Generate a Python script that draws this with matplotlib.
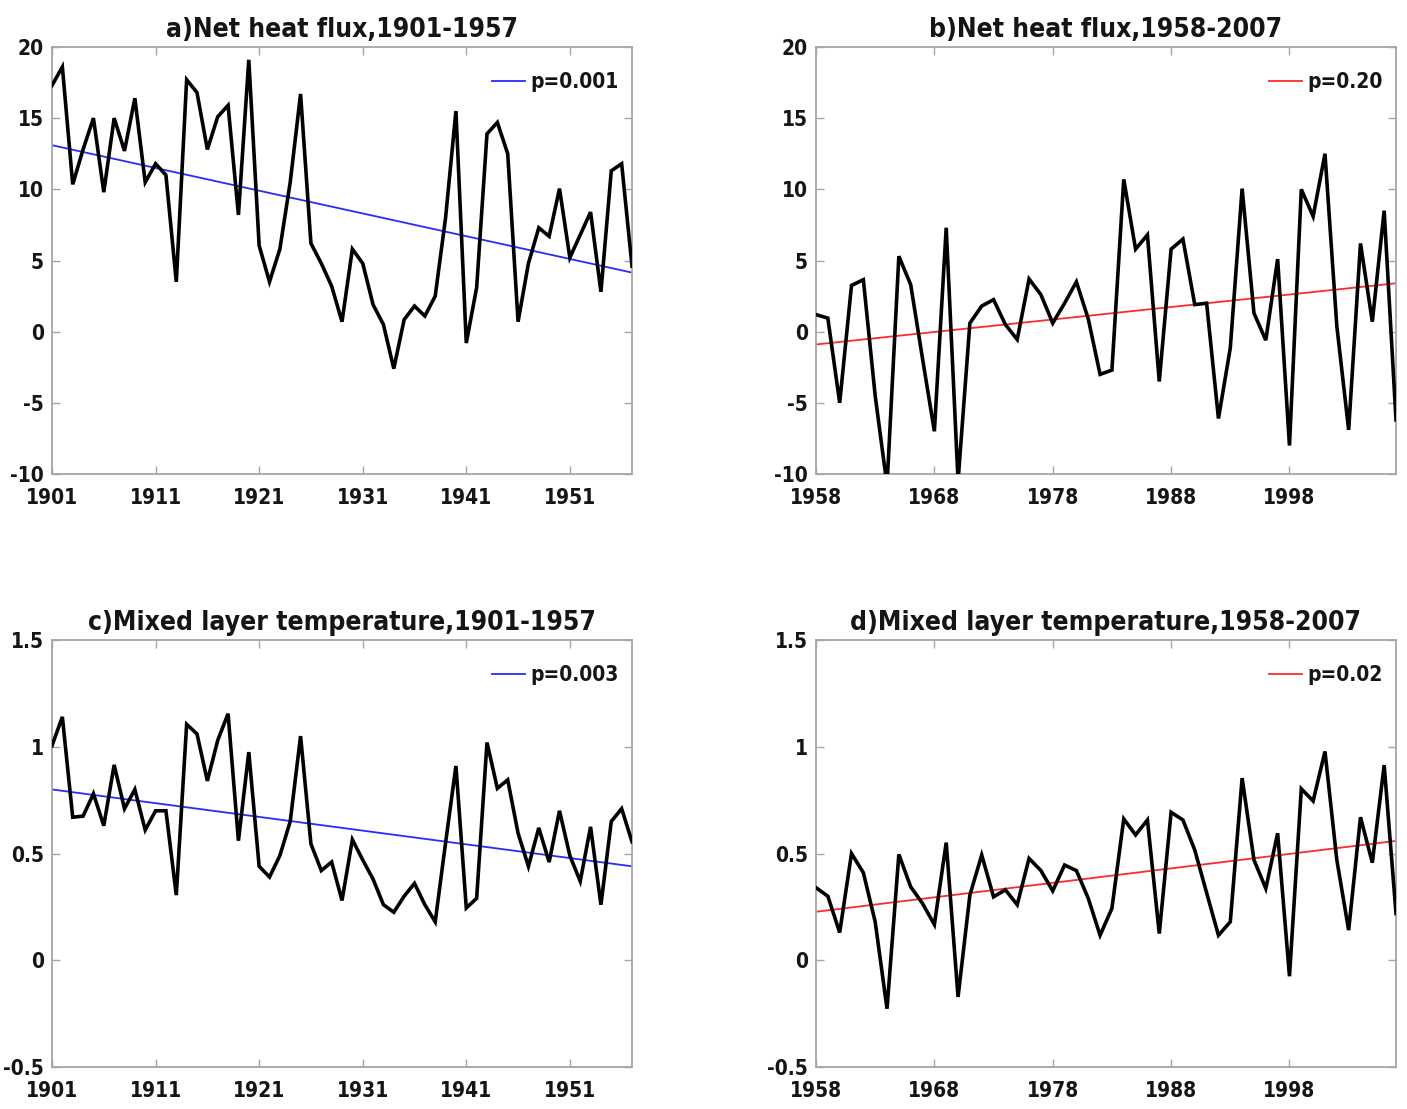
import matplotlib
matplotlib.use("Agg")
import matplotlib.pyplot as plt
import numpy as np

plt.rcParams['font.family'] = ['DejaVu Sans Condensed', 'DejaVu Sans']
plt.rcParams['font.stretch'] = 'condensed'
plt.rcParams['font.weight'] = 'bold'

# ---- data -------------------------------------------------------------
years_early = list(range(1901, 1958))
years_late = list(range(1958, 2008))

heat_flux_early = [
    17.3, 18.6, 10.35, 12.8, 15.0, 9.8, 15.0, 12.7, 16.4, 10.5,
    11.8, 11.0, 3.5, 17.7, 16.8, 12.8, 15.1, 15.9, 8.2, 19.1,
    6.05, 3.5, 5.8, 10.5, 16.7, 6.2, 4.8, 3.2, 0.7, 5.8,
    4.8, 1.9, 0.5, -2.6, 0.85, 1.8, 1.1, 2.5, 8.0, 15.5,
    -0.8, 3.1, 13.9, 14.7, 12.5, 0.7, 4.8, 7.3, 6.7, 10.05,
    5.2, 6.8, 8.4, 2.8, 11.3, 11.8, 4.6,
]

heat_flux_late = [
    1.2, 0.95, -5.0, 3.25, 3.65, -4.5, -10.8, 5.3, 3.3, -1.9,
    -7.0, 7.3, -10.5, 0.6, 1.8, 2.25, 0.5, -0.55, 3.7, 2.6,
    0.6, 2.0, 3.5, 0.9, -3.0, -2.7, 10.7, 5.8, 6.8, -3.5,
    5.8, 6.5, 1.9, 2.0, -6.1, -1.15, 10.05, 1.3, -0.6, 5.1,
    -8.0, 10.0, 8.1, 12.5, 0.4, -6.9, 6.2, 0.7, 8.5, -6.2,
]

mlt_early = [
    1.005, 1.14, 0.67, 0.675, 0.78, 0.63, 0.915, 0.71, 0.80, 0.61,
    0.70, 0.70, 0.305, 1.105, 1.06, 0.84, 1.03, 1.155, 0.56, 0.975,
    0.44, 0.39, 0.49, 0.65, 1.05, 0.545, 0.42, 0.46, 0.28, 0.565,
    0.47, 0.38, 0.26, 0.225, 0.30, 0.36, 0.26, 0.18, 0.55, 0.91,
    0.245, 0.29, 1.02, 0.805, 0.845, 0.595, 0.44, 0.62, 0.46, 0.70,
    0.49, 0.37, 0.625, 0.26, 0.65, 0.71, 0.555,
]

mlt_late = [
    0.34, 0.30, 0.13, 0.50, 0.41, 0.18, -0.227, 0.496, 0.344, 0.266,
    0.167, 0.551, -0.172, 0.305, 0.493, 0.297, 0.33, 0.26, 0.477, 0.42,
    0.325, 0.446, 0.42, 0.29, 0.117, 0.243, 0.662, 0.587, 0.657, 0.125,
    0.693, 0.657, 0.516, 0.316, 0.117, 0.18, 0.853, 0.47, 0.336, 0.595,
    -0.075, 0.803, 0.746, 0.978, 0.47, 0.141, 0.67, 0.457, 0.914, 0.219,
]

# linear trends (values at first and last year of each period)
trend_a = [13.1, 4.15]
trend_b = [-0.9, 3.4]
trend_c = [0.80, 0.44]
trend_d = [0.227, 0.559]

p_labels = ['p=0.001', 'p=0.20', 'p=0.003', 'p=0.02']
titles = ['a)Net heat flux,1901-1957', 'b)Net heat flux,1958-2007',
          'c)Mixed layer temperature,1901-1957',
          'd)Mixed layer temperature,1958-2007']

flux_ticks = [-10, -5, 0, 5, 10, 15, 20]
flux_ticklabels = ['-10', '-5', '0', '5', '10', '15', '20']
mlt_ticks = [-0.5, 0, 0.5, 1, 1.5]
mlt_ticklabels = ['-0.5', '0', '0.5', '1', '1.5']
early_xticks = [1901, 1911, 1921, 1931, 1941, 1951]
late_xticks = [1958, 1968, 1978, 1988, 1998]

# ---- figure -----------------------------------------------------------
W, H = 1407, 1109
fig = plt.figure(figsize=(W / 100, H / 100), dpi=100)


def px_axes(left, top, right, bottom):
    return fig.add_axes([left / W, 1 - bottom / H, (right - left) / W,
                         (bottom - top) / H])


frame_color = '#a6a6a6'
text_color = '#151515'
tick_size = 15
title_size = 19

panels = [
    dict(box=(52, 47, 632, 474), x=years_early, y=heat_flux_early,
         trend=trend_a, tcol='#2a2aff', yt=flux_ticks, ytl=flux_ticklabels,
         ylim=(-10, 20), xt=early_xticks),
    dict(box=(816, 47, 1396, 474), x=years_late, y=heat_flux_late,
         trend=trend_b, tcol='#ff2a2a', yt=flux_ticks, ytl=flux_ticklabels,
         ylim=(-10, 20), xt=late_xticks),
    dict(box=(52, 640, 632, 1067), x=years_early, y=mlt_early,
         trend=trend_c, tcol='#2a2aff', yt=mlt_ticks, ytl=mlt_ticklabels,
         ylim=(-0.5, 1.5), xt=early_xticks),
    dict(box=(816, 640, 1396, 1067), x=years_late, y=mlt_late,
         trend=trend_d, tcol='#ff2a2a', yt=mlt_ticks, ytl=mlt_ticklabels,
         ylim=(-0.5, 1.5), xt=late_xticks),
]

for i, p in enumerate(panels):
    ax = px_axes(*p['box'])
    ax.plot(p['x'], p['y'], color='black', lw=2.6, zorder=3,
            solid_joinstyle='miter')
    tl, = ax.plot([p['x'][0], p['x'][-1]], p['trend'], color=p['tcol'],
                  lw=1.3, zorder=2)
    ax.set_xlim(p['x'][0], p['x'][-1])
    ax.set_ylim(*p['ylim'])
    ax.set_xticks(p['xt'])
    ax.set_xticklabels([str(v) for v in p['xt']])
    ax.set_yticks(p['yt'])
    ax.set_yticklabels(p['ytl'])
    ax.tick_params(direction='in', length=6, width=1.0, color=frame_color,
                   top=True, right=True, labelsize=tick_size,
                   labelcolor=text_color)
    ax.tick_params(axis='x', pad=10)
    ax.tick_params(axis='y', pad=6)
    for lab in ax.get_xticklabels() + ax.get_yticklabels():
        lab.set_fontweight('bold')
    for s in ax.spines.values():
        s.set_color(frame_color)
        s.set_linewidth(1.3)
    ax.set_title(titles[i], fontsize=title_size, fontweight='bold', pad=7,
                 color=text_color)
    leg = ax.legend([tl], [p_labels[i]], loc='center right',
                    bbox_to_anchor=(0.977, 0.917), frameon=False,
                    borderpad=0, borderaxespad=0, handlelength=1.6,
                    handletextpad=0.25,
                    prop=dict(size=tick_size, weight='bold'))
    for t in leg.get_texts():
        t.set_color(text_color)

fig.savefig('out.png', dpi=100)
